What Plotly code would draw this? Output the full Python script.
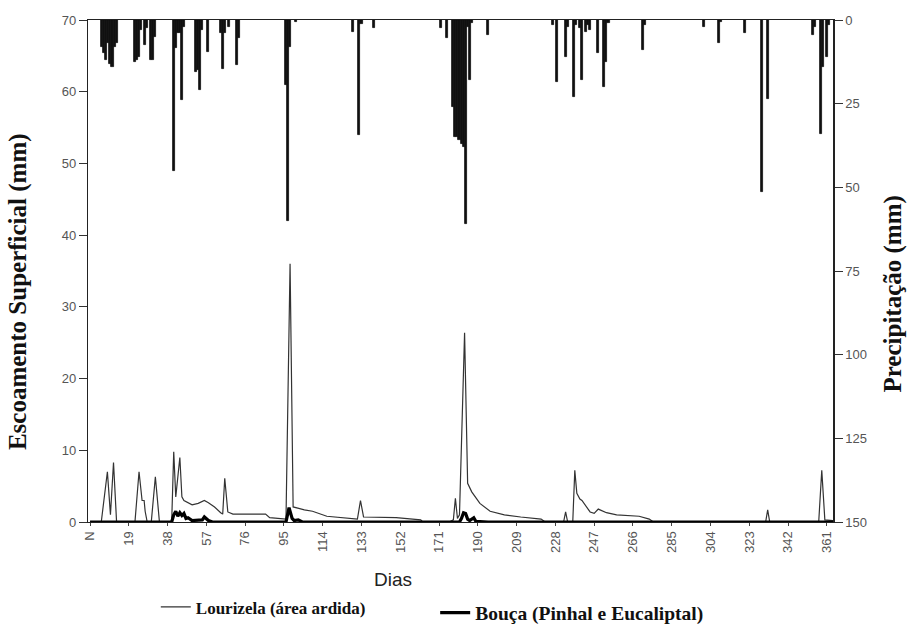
import plotly.graph_objects as go

# Precipitation (mm), daily, hanging from the top (right axis)
precip_days = [6, 7, 8, 9, 10, 11, 12, 13,
               22, 23, 24, 25, 27, 28, 30, 31, 32,
               41, 42, 43, 44, 45, 46,
               52, 53, 54, 55, 58, 64, 65, 66, 68, 72, 73,
               96, 97, 98, 101,
               129, 132, 133, 139,
               172, 175, 178, 179, 180, 181, 182, 183, 184, 185, 186, 187, 195,
               227, 229, 233, 234, 237, 238, 240, 241, 243, 244, 245, 249, 252, 253, 254,
               271, 272, 301, 308, 309, 321, 329, 332, 354, 355, 358, 359, 361, 362]
precip_mm = [8, 10, 12, 7, 13, 14, 8, 7,
             12.5, 12, 11, 3, 7.5, 2.5, 12, 12, 5,
             45, 8.5, 4, 4, 24, 2,
             15.5, 15, 21, 3, 9.5, 4, 14.6, 4, 2, 13.4, 5.5,
             19.4, 60, 8, 0.5,
             3.5, 34.4, 1.2, 2.5,
             2.5, 5.5, 26, 35, 35, 36, 37, 38, 61, 2, 18, 1, 4.5,
             1.5, 18.5, 11, 2, 23, 1.5, 2.5, 18, 3.5, 1.5, 3, 10, 20, 12.5, 1,
             9, 1.5, 2, 6.8, 0.5, 4, 51.5, 23.5, 4.5, 2, 34, 14, 11, 1.5]

# Runoff Lourizela (burnt area), mm
lour_days = [0, 5.5, 8.5, 10, 11.5, 13, 22, 24, 25.5, 26.5, 27, 28, 30, 32, 34,
             40, 41, 42, 44, 45, 46, 50, 53, 56, 58, 61, 64, 65, 66, 67.5, 70, 86, 88, 96,
             98, 99.5, 105, 109, 116, 119, 125, 131, 132.5, 134, 150, 162, 163,
             176, 178, 179, 180, 181, 183.5, 185, 187, 191, 196, 203, 211, 221, 223,
             232, 233, 234, 236.5, 237.5, 238.5, 240, 241, 243, 245, 247, 249, 253, 258,
             269, 274, 276, 331, 332, 333, 357, 358.5, 360, 364]
lour_mm = [0, 0, 7.0, 1.0, 8.3, 0, 0, 7.0, 3.0, 3.0, 1.5, 0, 0, 6.3, 0,
           0, 9.8, 3.5, 9.0, 3.5, 3.0, 2.4, 2.6, 3.0, 2.7, 2.1, 1.3, 1.1, 6.1, 1.4, 1.1, 1.1, 0.6, 0.4,
           36, 2.1, 1.7, 1.5, 0.8, 0.7, 0.5, 0.4, 3.0, 0.7, 0.6, 0.3, 0,
           0, 0.3, 3.3, 0.5, 1.0, 26.4, 5.4, 4.2, 2.6, 1.5, 1.0, 0.7, 0.4, 0,
           0, 1.4, 0, 0, 7.2, 4.0, 3.2, 3.0, 2.2, 1.4, 1.2, 1.8, 1.3, 1.0,
           0.8, 0.4, 0, 0, 1.7, 0, 0, 7.2, 0.3, 0.2]

# Runoff Bouça (pine and eucalyptus), mm
bouca_days = [0, 40, 41, 42, 43, 44, 45, 46, 47, 48, 50, 55, 56, 57, 58, 60,
              96, 97.5, 99, 100, 102, 104, 181, 182, 183, 184, 185, 186, 188, 189, 195, 365]
bouca_mm = [0, 0, 1.0, 1.5, 0.8, 1.3, 0.9, 1.2, 0.5, 0.6, 0.2, 0.3, 0.7, 0.5, 0.2, 0,
            0, 2.0, 0.5, 0.2, 0.3, 0, 0, 0.5, 1.3, 1.2, 0.4, 0.2, 0.6, 0.1, 0, 0]

x_tickvals = [0, 19, 38, 57, 76, 95, 114, 133, 152, 171, 190, 209, 228, 247, 266,
              285, 304, 323, 342, 361]
x_ticktext = ["N"] + [str(v) for v in x_tickvals[1:]]

fig = go.Figure()
fig.add_trace(go.Bar(x=precip_days, y=precip_mm, yaxis="y2", width=1.0,
                     marker=dict(color="#111", line=dict(width=0.8, color="#111")),
                     showlegend=False))
fig.add_trace(go.Scatter(x=lour_days, y=lour_mm, mode="lines",
                         line=dict(color="#333", width=1.2),
                         name="Lourizela (área ardida)", legend="legend"))
fig.add_trace(go.Scatter(x=bouca_days, y=bouca_mm, mode="lines",
                         line=dict(color="#000", width=3.2),
                         name="Bouça (Pinhal e Eucaliptal)", legend="legend2"))

tickfont = dict(family="Liberation Sans, Arial", size=13, color="#555")
serif = "Liberation Serif, Times New Roman"
titlefont = dict(family=serif, size=25, color="#111", weight="bold")

fig.update_layout(
    width=911, height=624,
    margin=dict(l=88, r=78, t=20, b=102, autoexpand=False),
    plot_bgcolor="white", paper_bgcolor="white",
    bargap=0,
    xaxis=dict(range=[-1, 364], tickvals=x_tickvals, ticktext=x_ticktext,
               tickangle=-90, tickfont=tickfont, showgrid=False, zeroline=False,
               showline=True, linecolor="#222", linewidth=1.2, mirror=True,
               ticks="outside", ticklen=3, tickcolor="#444"),
    yaxis=dict(range=[0, 70], tickvals=[0, 10, 20, 30, 40, 50, 60, 70], tickfont=tickfont,
               showgrid=False, zeroline=False, showline=True, linecolor="#222", linewidth=1.2,
               ticks="outside", ticklen=8, tickcolor="#333"),
    yaxis2=dict(range=[150, 0], overlaying="y", side="right",
                tickvals=[0, 25, 50, 75, 100, 125, 150], tickfont=tickfont,
                showgrid=False, zeroline=False, showline=True, linecolor="#222", linewidth=1.5,
                ticks="outside", ticklen=8, tickcolor="#333"),
    legend=dict(orientation="h", x=0.091, y=-0.17, xanchor="left", yanchor="middle",
                font=dict(family=serif, size=17, color="#111", weight="bold"),
                bgcolor="rgba(0,0,0,0)"),
    legend2=dict(orientation="h", x=0.466, y=-0.181, xanchor="left", yanchor="middle",
                 font=dict(family=serif, size=19.5, color="#111", weight="bold"),
                 bgcolor="rgba(0,0,0,0)"),
    annotations=[
        dict(text="Escoamento Superficial (mm)", xref="paper", yref="paper",
             x=-0.094, y=0.46, textangle=-90, showarrow=False, font=titlefont,
             xanchor="center", yanchor="middle"),
        dict(text="Precipitação (mm)", xref="paper", yref="paper",
             x=1.0805, y=0.455, textangle=-90, showarrow=False, font=titlefont,
             xanchor="center", yanchor="middle"),
        dict(text="Dias", xref="paper", yref="paper",
             x=(393 - 88) / 745, y=-(579 - 522) / 502, showarrow=False,
             font=dict(family="Liberation Sans, Arial", size=19, color="#222"),
             xanchor="center", yanchor="middle"),
    ],
)

fig.write_html("out.html")
